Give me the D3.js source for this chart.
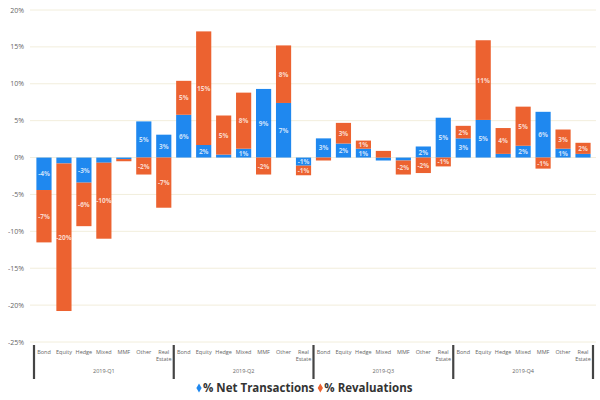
<!DOCTYPE html>
<html><head><meta charset="utf-8">
<script src="https://cdn.jsdelivr.net/npm/d3@7"></script>
<style>body{margin:0;background:#fff;font-family:"Open Sans","DejaVu Sans",sans-serif;}</style>
</head><body><svg id="c" width="600" height="400"></svg>
<script>
const groups = ["2019-Q1","2019-Q2","2019-Q3","2019-Q4"];
const categories = ["Bond","Equity","Hedge","Mixed","MMF","Other","Real Estate"];
const netTransactions = [
  -4.4, -0.8, -3.4, -0.7, -0.2, 4.9, 3.1,
   5.8,  1.7,  0.4,  1.2,  9.3, 7.4, -1.1,
   2.6,  1.9,  1.2, -0.4, -0.4, 1.5, 5.4,
   2.6,  5.1,  0.5,  1.6,  6.2, 1.2, 0.5
];
const revaluations = [
  -7.1, -20.0, -5.9, -10.3, -0.3, -2.3, -6.8,
   4.6,  15.4,  5.3,   7.6, -2.3,  7.8, -1.3,
  -0.4,   2.8,  1.1,   0.9, -1.9, -2.1, -1.2,
   1.7,  10.8,  3.5,   5.3, -1.5,  2.6,  1.5
];
const yTicks = [20,15,10,5,0,-5,-10,-15,-20,-25];
const seriesNames = ["% Net Transactions","% Revaluations"];
const colors = ["#1f88ef","#ec6230"];

(function(){
const rows = [];
groups.forEach((g,gi)=>categories.forEach((c,ci)=>{
  const i = gi*categories.length+ci;
  rows.push({key:g+"|"+c, group:g, cat:c, net:netTransactions[i], rev:revaluations[i]});
}));

const svg = d3.select("#c");
const pLeft=34, pRight=593, pTop=10, pBottom=342;
const x = d3.scaleBand().domain(rows.map(d=>d.key)).range([pLeft,pRight]).paddingInner(0.24).paddingOuter(0.12);
const y = d3.scaleLinear().domain([-25,20]).range([pBottom,pTop]);

svg.append("g").selectAll("line").data(yTicks).join("line")
  .attr("x1",30).attr("x2",596).attr("y1",d=>y(d)).attr("y2",d=>y(d))
  .attr("stroke","#f2eedc").attr("stroke-width",1);
svg.append("g").selectAll("text").data(yTicks).join("text")
  .attr("x",24).attr("y",d=>y(d)+2.5).attr("text-anchor","end")
  .attr("font-size",7).attr("fill","#666").text(d=>d+"%");

const stack = d3.stack().keys(["net","rev"]).offset(d3.stackOffsetDiverging);
const series = stack(rows);
const g = svg.append("g");
series.forEach((s,si)=>{
  g.append("g").selectAll("rect").data(s).join("rect")
    .attr("x",d=>x(d.data.key)).attr("width",x.bandwidth())
    .attr("y",d=>y(Math.max(d[0],d[1])))
    .attr("height",d=>Math.abs(y(d[0])-y(d[1])))
    .attr("fill",colors[si]);
  g.append("g").selectAll("text").data(s.filter(d=>Math.abs(y(d[0])-y(d[1]))>7)).join("text")
    .attr("x",d=>x(d.data.key)+x.bandwidth()/2)
    .attr("y",d=>(y(d[0])+y(d[1]))/2+2.5)
    .attr("text-anchor","middle").attr("font-size",6.5).attr("font-weight","bold")
    .attr("fill","#fff").attr("fill-opacity",0.75)
    .text(d=>Math.round(d.data[si===0?"net":"rev"])+"%");
});

const ax = svg.append("g");
rows.forEach(d=>{
  const cx = x(d.key)+x.bandwidth()/2;
  const words = d.cat==="Real Estate"?["Real","Estate"]:[d.cat];
  words.forEach((w,wi)=>ax.append("text").attr("x",cx).attr("y",354+wi*7)
    .attr("text-anchor","middle").attr("font-size",5.5).attr("fill","#666").text(w));
});
const half = (x.step()*x.paddingInner())/2;
groups.forEach((gr)=>{
  const x0 = x(gr+"|"+categories[0]) - half;
  const x1 = x(gr+"|"+categories[categories.length-1]) + x.bandwidth() + half;
  ax.append("text").attr("x",(x0+x1)/2).attr("y",373).attr("text-anchor","middle")
    .attr("font-size",5.5).attr("fill","#666").text(gr);
});
const seps = groups.map((gr)=>x(gr+"|"+categories[0]) - half);
seps.push(x(groups[groups.length-1]+"|"+categories[categories.length-1]) + x.bandwidth() + half);
ax.selectAll("line.sep").data(seps).join("line")
  .attr("x1",d=>d).attr("x2",d=>d).attr("y1",345).attr("y2",379)
  .attr("stroke","#444").attr("stroke-width",2.2);

const lg = svg.append("g").attr("font-size",11.5).attr("font-weight","bold").attr("fill","#333");
let lx = 197;
seriesNames.forEach((n,i)=>{
  lg.append("path").attr("d",d3.symbol(d3.symbolDiamond,24)()).attr("transform",`translate(${lx+2},388)`).attr("fill",colors[i]);
  const t = lg.append("text").attr("x",lx+6).attr("y",392).text(n);
  lx += 6 + t.node().getComputedTextLength() + 4;
});
})();
</script></body></html>
